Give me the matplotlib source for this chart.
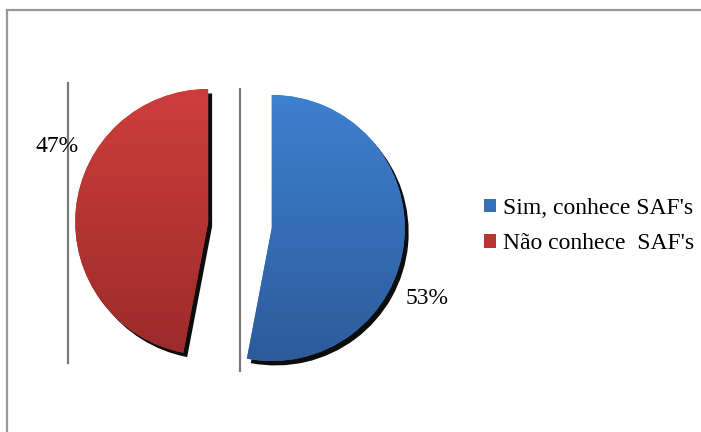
import numpy as np
import matplotlib
matplotlib.use("Agg")
import matplotlib.pyplot as plt
from matplotlib.patches import Patch, Rectangle, Shadow
from matplotlib.colors import LinearSegmentedColormap

labels = ["Sim, conhece SAF's", "Não conhece  SAF's"]
values = [53, 47]
pct_labels = ["53%", "47%"]
top_colors = ["#3d80d0", "#cd3e3b"]
bottom_colors = ["#2d5b9a", "#9c2b2a"]
legend_colors = ["#3670b8", "#b83533"]

W, H = 701, 432
fig = plt.figure(figsize=(W / 100, H / 100), dpi=100)
ax = fig.add_axes([0, 0, 1, 1])
ax.set_xlim(0, W)
ax.set_ylim(0, H)
ax.set_axis_off()

# outer border (only top and left visible)
ax.add_patch(Rectangle((7, -20), W + 50, H - 10 + 20, fill=False,
                       edgecolor="#9a9a9a", linewidth=1.6, zorder=1))

cx, cy, R = 240, H - 225, 133
explode_frac = 0.24
wedges, _ = ax.pie(values, startangle=90, counterclock=False,
                   explode=[explode_frac * R] * 2, center=(cx, cy), radius=R,
                   colors=top_colors, wedgeprops=dict(linewidth=0),
                   frame=True)
ax.set_xlim(0, W)
ax.set_ylim(0, H)
ax.set_aspect("equal")
ax.set_axis_off()

for w, ct, cb in zip(wedges, top_colors, bottom_colors):
    # dark shadow
    sh = Shadow(w, 2.8, -3.2, shade=1.0, alpha=0.95)
    sh.set_facecolor("black")
    sh.set_edgecolor("black")
    sh.set_zorder(1.5)
    ax.add_patch(sh)
    bb = w.get_path().get_extents(w.get_patch_transform())
    x0, y0, x1, y1 = bb.x0, bb.y0, bb.x1, bb.y1
    cmap = LinearSegmentedColormap.from_list("g", [cb, ct])
    grad = np.linspace(0, 1, 256).reshape(-1, 1)
    im = ax.imshow(grad, cmap=cmap, extent=[x0, x1, y0, y1], origin="lower",
                   aspect="auto", zorder=2)
    im.set_clip_path(w)
    w.set_zorder(1.9)
    # thin gray vertical rule at left of each slice
    ax.plot([x0 - 7, x0 - 7], [y0 - 10, y1 + 6], color="#7a7a7a",
            linewidth=1.6, zorder=1)

ax.set_xlim(0, W)
ax.set_ylim(0, H)

font = "Liberation Serif"
ax.text(427, H - 298, pct_labels[0], fontsize=17, family=font,
        ha="center", va="center", zorder=3)
ax.text(57, H - 146, pct_labels[1], fontsize=17, family=font,
        ha="center", va="center", zorder=3)

handles = [Patch(facecolor=c, edgecolor="none") for c in legend_colors]
leg = ax.legend(handles, labels, loc="center left",
                bbox_to_anchor=(475 / W, 1 - 226 / H), frameon=False,
                prop=dict(family=font, size=17), handlelength=0.5,
                handleheight=0.5, handletextpad=0.3, labelspacing=0.62,
                borderaxespad=0)

fig.savefig("out.png", dpi=100)
